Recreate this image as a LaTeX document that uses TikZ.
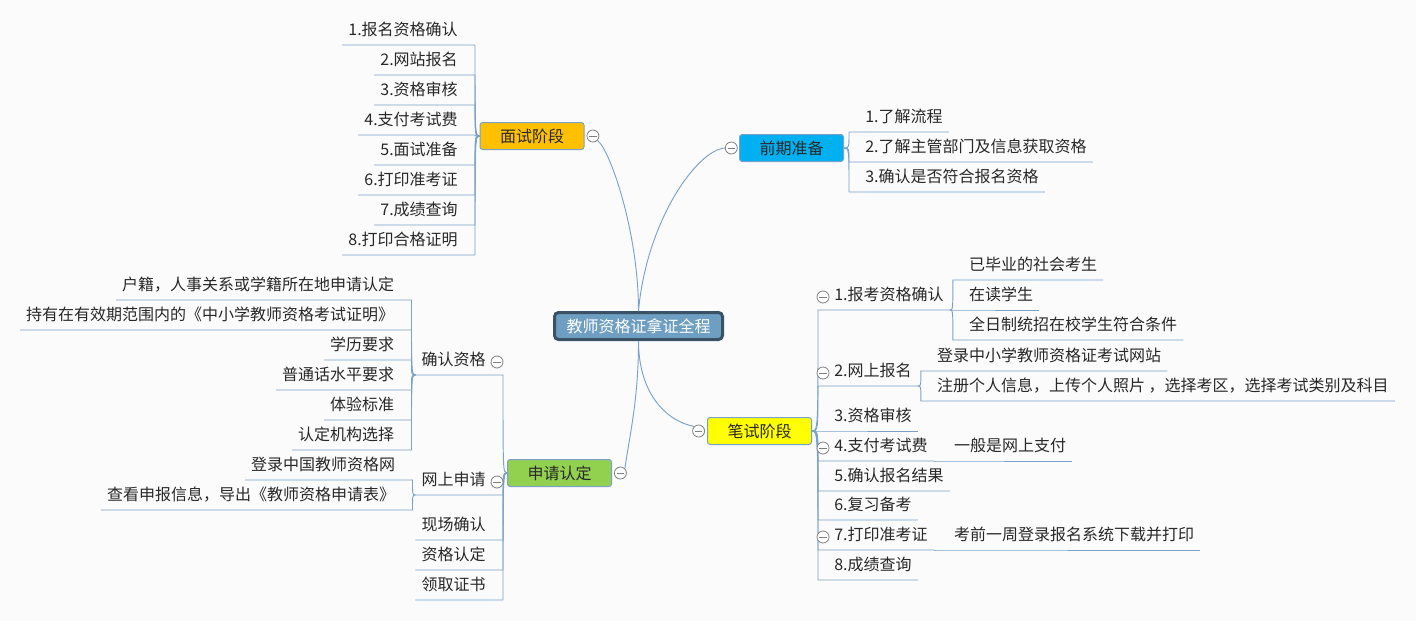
\documentclass[tikz,border=0pt]{standalone}
\usepackage{fontspec}
\setmainfont{Noto Sans CJK SC} % Chinese text
\usetikzlibrary{positioning}

\definecolor{linec}{RGB}{122,162,200}
\definecolor{textc}{RGB}{40,40,40}
\definecolor{rootfill}{RGB}{110,159,194}
\definecolor{rootline}{RGB}{59,81,101}
\definecolor{mianfill}{RGB}{255,192,0}
\definecolor{qianfill}{RGB}{0,176,240}
\definecolor{bifill}{RGB}{255,255,0}
\definecolor{shenfill}{RGB}{146,208,80}
\definecolor{foldc}{RGB}{128,128,128}
\definecolor{bgc}{RGB}{251,251,252}

\tikzset{
  link/.style={draw=linec, line width=0.7pt},
  root/.style={draw=rootline, line width=2.25pt, fill=rootfill, rounded corners=3pt,
    text=white, minimum width=126pt, minimum height=20.25pt, inner sep=0pt},
  branch/.style={draw=linec, line width=0.75pt, rounded corners=2pt, text=textc,
    minimum width=78pt, minimum height=20.25pt, inner sep=0pt},
  leaf/.style={inner xsep=0pt, inner ysep=0pt, text depth=6.75pt, text=textc},
  lleaf/.style={leaf, anchor=south east,
    execute at begin node={\hspace{4.5pt}}, execute at end node={\hspace{12.75pt}}},
  rleaf/.style={leaf, anchor=south west,
    execute at begin node={\hspace{12pt}}, execute at end node={\hspace{4.5pt}}},
  fold/.style={circle, draw=foldc, fill=white, line width=0.6pt, inner sep=0pt, minimum size=9pt,
    path picture={\draw[foldc, line width=0.6pt] ([xshift=1.8pt]path picture bounding box.west)
      -- ([xshift=-1.8pt]path picture bounding box.east);}},
}
% underline of a leaf, then bracket curve back to its parent
\newcommand{\lconn}[2]{\draw[link] (#2.south west) -- (#2.south east) .. controls (#2.south east |- #1) .. (#1);}
\newcommand{\rconn}[2]{\draw[link] (#2.south east) -- (#2.south west) .. controls (#2.south west |- #1) .. (#1);}

\begin{document}
\begin{tikzpicture}[x=0.75pt, y=-0.75pt, font=\fontsize{12pt}{14pt}\selectfont]
  \useasboundingbox (0,0) rectangle (1416,621);
  \fill[bgc] (0,0) rectangle (1416,621);

  \node[root] (root) at (638.5,326) {教师资格证拿证全程};
  \node[branch, fill=mianfill] (mian) at (532,136) {面试阶段};
  \node[branch, fill=qianfill] (qian) at (791.5,148) {前期准备};
  \node[branch, fill=bifill] (bi) at (759.5,431) {笔试阶段};
  \node[branch, fill=shenfill] (shen) at (559.5,473) {申请认定};
  \node[fold, right=1.5pt of mian] (fmian) {};
  \node[fold, left=1pt of qian] (fqian) {};
  \node[fold, left=1.5pt of bi] (fbi) {};
  \node[fold, right=1.5pt of shen] (fshen) {};

  \draw[link] (root.north) .. controls +(0,-80) and +(12,8) .. (fmian.south east);
  \draw[link] (root.north) .. controls +(8,-90) and +(-28,2) .. (fqian.west);
  \draw[link] (root.south) .. controls +(0,50) and +(-30,-6) .. (fbi.north west);
  \draw[link] (root.south) .. controls +(0,60) and +(4,-30) .. (fshen.north east);

  % 面试阶段
  \foreach \t [count=\i] in {1.报名资格确认, 2.网站报名, 3.资格审核, 4.支付考试费,
      5.面试准备, 6.打印准考证, 7.成绩查询, 8.打印合格证明}
    \node[lleaf] (m\i) at (475,15+30*\i) {\t};
  \foreach \i in {1,...,8} {\lconn{mian.west}{m\i}}

  % 前期准备
  \foreach \t [count=\i] in {1.了解流程, 2.了解主管部门及信息获取资格, 3.确认是否符合报名资格}
    \node[rleaf] (q\i) at (849,102+30*\i) {\t};
  \foreach \i in {1,2,3} {\rconn{qian.east}{q\i}}

  % 笔试阶段
  \foreach \t/\y [count=\i] in {1.报考资格确认/310, 2.网上报名/386, 3.资格审核/431,
      4.支付考试费/461, 5.确认报名结果/491, 6.复习备考/520, 7.打印准考证/550, 8.成绩查询/580}
    \node[rleaf] (b\i) at (818,\y) {\t};
  \foreach \i in {1,...,8} {\rconn{bi.east}{b\i}}
  \foreach \t/\y [count=\i] in {已毕业的社会考生/-30, 在读学生/0, 全日制统招在校学生符合条件/30}
    \node[rleaf] (b1\i) at ([shift={(3,\y)}]b1.south east) {\t};
  \foreach \i in {1,2,3} {\rconn{b1.south east}{b1\i}}
  \node[rleaf] (b21) at ([shift={(3,-15)}]b2.south east) {登录中小学教师资格证考试网站};
  \node[rleaf] (b22) at ([shift={(3,15)}]b2.south east) {注册个人信息，上传个人照片 ，选择考区，选择考试类别及科目};
  \foreach \i in {1,2} {\rconn{b2.south east}{b2\i}}
  \node[rleaf] (b41) at ([xshift=3pt]b4.south east) {一般是网上支付};
  \node[rleaf] (b71) at ([xshift=3pt]b7.south east) {考前一周登录报名系统下载并打印};
  \rconn{b4.south east}{b41}
  \rconn{b7.south east}{b71}
  \foreach \n in {b1,b2,b4,b7}
    \node[fold] (f\n) at ([shift={(5,-13)}]\n.south west) {};

  % 申请认定
  \foreach \t/\y [count=\i] in {确认资格/375, 网上申请/495, 现场确认/540, 资格认定/570, 领取证书/600}
    \node[lleaf] (s\i) at (503,\y) {\t};
  \foreach \i in {1,...,5} {\lconn{shen.west}{s\i}}
  \foreach \t/\y [count=\i] in {户籍，人事关系或学籍所在地申请认定/-75,
      持有在有效期范围内的《中小学教师资格考试证明》/-45, 学历要求/-15,
      普通话水平要求/15, 体验标准/45, 认定机构选择/75}
    \node[lleaf] (s1\i) at ([shift={(-4,\y)}]s1.south west) {\t};
  \foreach \i in {1,...,6} {\lconn{s1.south west}{s1\i}}
  \node[lleaf] (s21) at ([shift={(-3,-15)}]s2.south west) {登录中国教师资格网};
  \node[lleaf] (s22) at ([shift={(-3,15)}]s2.south west) {查看申报信息，导出《教师资格申请表》};
  \foreach \i in {1,2} {\lconn{s2.south west}{s2\i}}
  \foreach \n in {s1,s2}
    \node[fold] (f\n) at ([shift={(-6,-13)}]\n.south east) {};
\end{tikzpicture}
\end{document}
